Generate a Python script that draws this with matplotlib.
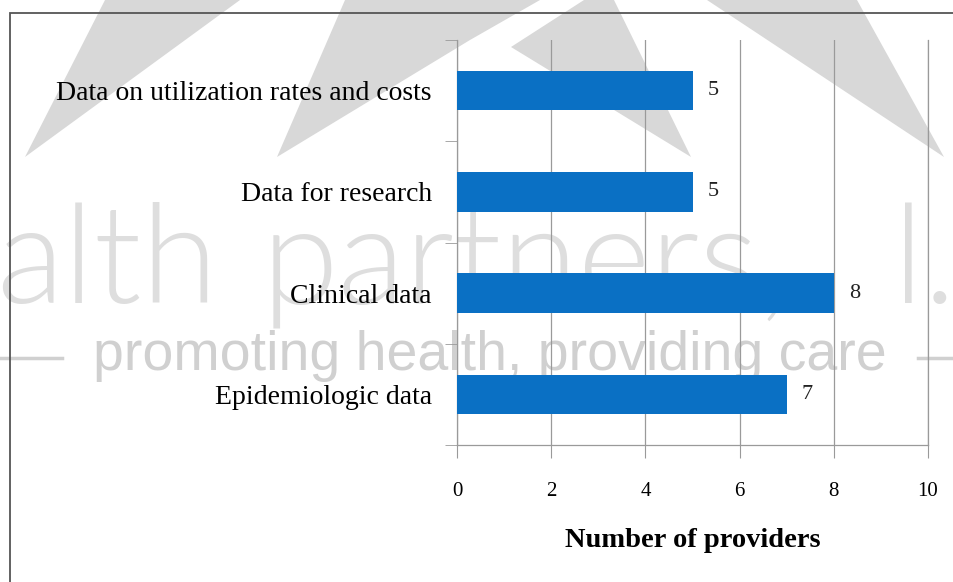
import numpy as np
import matplotlib
matplotlib.use("Agg")
import matplotlib.pyplot as plt
from matplotlib.patches import Polygon, Rectangle
from matplotlib.lines import Line2D

# data (top to bottom as shown)
categories = ["Data on utilization rates and costs", "Data for research",
              "Clinical data", "Epidemiologic data"]
providers = [5, 5, 8, 7]
x_ticks = [0, 2, 4, 6, 8, 10]

W, H = 954, 582
serif = ["Liberation Serif", "DejaVu Serif"]
bar_color = "#0A70C4"
grid_gray = "#9a9a9a"

fig = plt.figure(figsize=(W / 100, H / 100), dpi=100)
fig.patch.set_facecolor("white")


def px(x, y):
    # pixel from top-left -> figure fraction
    return (x / W, 1 - y / H)


# --- watermark in the background ---
wm = "#d8d8d8"
shapes = [
    [(25, 157), (105, 0), (240, 0)],
    [(277, 157), (345, 0), (540, 0), (470, 40)],
    [(511, 47), (584, 0), (614, 0), (691, 157)],
    [(707, 0), (857, 0), (944, 157)],
]
for s in shapes:
    fig.add_artist(Polygon([px(*p) for p in s], closed=True, transform=fig.transFigure,
                           facecolor=wm, edgecolor="none", zorder=0))

logo_font = dict(fontsize=100, color="#dedede", family=["Lato", "Roboto", "DejaVu Sans"],
                 fontweight=300, ha="left", va="baseline", zorder=0)
for x0, word in [(-4, "alth"), (262, "partners,"), (893, "l.")]:
    fig.text(*px(x0, 303), word, **logo_font)
fig.text(*px(490, 370), "promoting health, providing care", fontsize=40,
         color="#d0d0d0", family=["Liberation Sans", "DejaVu Sans"],
         ha="center", va="baseline", zorder=0)
for x0, x1 in [(0, 62), (918, 954)]:
    fig.add_artist(Line2D([x0 / W, x1 / W], [1 - 358 / H] * 2, transform=fig.transFigure,
                          color="#d0d0d0", lw=2.5, zorder=0))

# outer chart border
fig.add_artist(Rectangle(px(10, 600), (W + 20) / W, (600 - 13) / H,
                         transform=fig.transFigure, fill=False,
                         edgecolor="#555555", lw=1.3, zorder=1))

# --- chart ---
ax = fig.add_axes([457 / W, 1 - 445 / H, (928 - 457) / W, (445 - 40) / H])
ax.patch.set_visible(False)
ax.set_zorder(1)

y = np.arange(len(categories))
bars = ax.barh(y, providers, height=0.39, color=bar_color, zorder=3)
ax.bar_label(bars, padding=11, fontsize=16, family=serif, color="#222222")

ax.set_xlim(0, 10)
ax.set_ylim(len(categories) - 0.5, -0.5)
ax.set_xticks(x_ticks)
ax.set_xticklabels([str(t) for t in x_ticks], family=serif, fontsize=15)
ax.set_yticks(y)
ax.set_yticklabels(categories, family=serif, fontsize=20)
ax.set_yticks(np.arange(len(categories) + 1) - 0.5, minor=True)

ax.tick_params(axis="y", which="major", length=0, pad=18)
ax.tick_params(axis="y", which="minor", length=9, color=grid_gray)
ax.tick_params(axis="x", length=9, color=grid_gray, pad=18)

ax.xaxis.grid(True, color=grid_gray, lw=0.9, zorder=0)
ax.set_axisbelow(True)
ax.spines["top"].set_visible(False)
for side in ["left", "bottom", "right"]:
    ax.spines[side].set_color(grid_gray)
    ax.spines[side].set_linewidth(0.9)

ax.set_xlabel("Number of providers", family=serif, fontsize=20.5, fontweight="bold",
              labelpad=19)

fig.savefig("out.png", dpi=100)
